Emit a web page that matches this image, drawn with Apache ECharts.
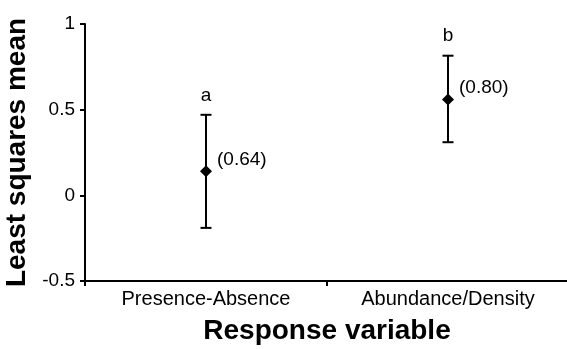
<!DOCTYPE html>
<html>
<head>
<meta charset="utf-8">
<script src="https://cdn.jsdelivr.net/npm/echarts@6/dist/echarts.min.js"></script>
<style>
  html, body { margin: 0; padding: 0; background: #fff; }
  #chart { width: 567px; height: 349px; }
</style>
</head>
<body>
<div id="chart"></div>
<script>
const categories = ['Presence-Absence', 'Abundance/Density'];
const means = [0.14, 0.56];
const lower = [-0.19, 0.31];
const upper = [0.47, 0.815];
const letters = ['a', 'b'];
const rLabels = ['(0.64)', '(0.80)'];
const yTicks = [-0.5, 0, 0.5, 1];

const font = 'Liberation Sans, Arial, sans-serif';
const chart = echarts.init(document.getElementById('chart'));

const errData = categories.map((c, i) => [i, lower[i], upper[i]]);

const option = {
  animation: false,
  grid: { left: 85, right: -2, top: 24, bottom: 68, outerBoundsMode: 'none', containLabel: false },
  xAxis: {
    type: 'category',
    data: categories,
    name: 'Response variable',
    nameLocation: 'middle',
    nameGap: 36,
    nameTextStyle: { fontFamily: font, fontSize: 28, fontWeight: 'bold', color: '#000' },
    axisLine: { onZero: false, lineStyle: { color: '#000', width: 2 } },
    axisTick: { show: true, length: 5, lineStyle: { color: '#000', width: 2 } },
    axisLabel: { fontFamily: font, fontSize: 20, color: '#000', margin: 8 },
    splitLine: { show: false }
  },
  yAxis: {
    type: 'value',
    min: yTicks[0],
    max: yTicks[yTicks.length - 1],
    interval: 0.5,
    name: 'Least squares mean',
    nameLocation: 'middle',
    nameGap: 54,
    nameTextStyle: { fontFamily: font, fontSize: 28, fontWeight: 'bold', color: '#000' },
    axisLine: { show: true, lineStyle: { color: '#000', width: 2 } },
    axisTick: { show: true, length: 5, lineStyle: { color: '#000', width: 2 } },
    axisLabel: { fontFamily: font, fontSize: 19, color: '#000', margin: 10 },
    splitLine: { show: false }
  },
  series: [
    {
      type: 'custom',
      data: errData,
      renderItem: function (params, api) {
        const x = api.value(0);
        const lo = api.coord([x, api.value(1)]);
        const hi = api.coord([x, api.value(2)]);
        const hw = 5.5;
        const style = { stroke: '#000', lineWidth: 2 };
        return {
          type: 'group',
          children: [
            { type: 'line', shape: { x1: hi[0], y1: hi[1], x2: lo[0], y2: lo[1] }, style: style },
            { type: 'line', shape: { x1: hi[0] - hw, y1: hi[1], x2: hi[0] + hw, y2: hi[1] }, style: style },
            { type: 'line', shape: { x1: lo[0] - hw, y1: lo[1], x2: lo[0] + hw, y2: lo[1] }, style: style }
          ]
        };
      },
      z: 2
    },
    {
      type: 'scatter',
      data: means.map((m, i) => ({ value: [i, m], label: { formatter: rLabels[i] } })),
      symbol: 'diamond',
      symbolSize: 12,
      itemStyle: { color: '#000', opacity: 1 },
      label: {
        show: true,
        position: 'right',
        distance: 5,
        offset: [0, -12],
        fontFamily: font,
        fontSize: 19,
        color: '#000'
      },
      z: 3
    },
    {
      type: 'scatter',
      data: upper.map((u, i) => ({ value: [i, u], label: { formatter: letters[i] } })),
      symbolSize: 0,
      itemStyle: { opacity: 1 },
      label: {
        show: true,
        position: 'top',
        distance: 10,
        fontFamily: font,
        fontSize: 19,
        color: '#000'
      }
    }
  ]
};

chart.setOption(option);
</script>
</body>
</html>
